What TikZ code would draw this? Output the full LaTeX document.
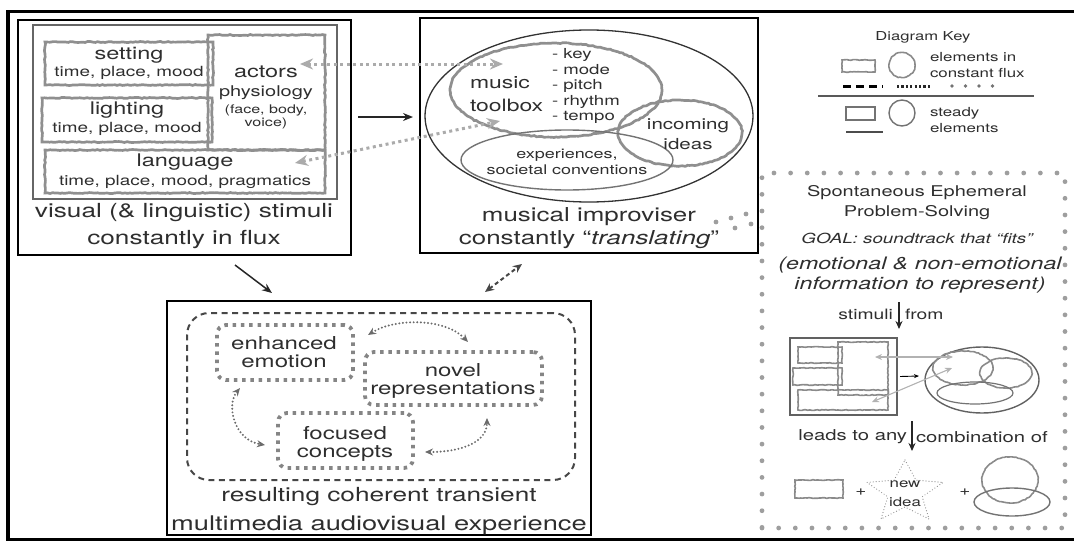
\documentclass[tikz,border=0pt]{standalone}
\usepackage{fontspec}
\setmainfont{TeX Gyre Heros}[FakeStretch=1.35]
\usetikzlibrary{arrows.meta,shapes.geometric,decorations.pathmorphing}
\newcommand{\fz}[1]{\fontsize{#1}{#1}\selectfont}
\begin{document}
\begin{tikzpicture}[x=1pt,y=-1pt,
  every node/.style={inner sep=0pt, outer sep=0pt, text=black!82},
  blackbox/.style={draw=black, line width=1.8pt, rectangle},
  flux/.style={draw=black!44, line width=2.7pt, decorate, decoration={random steps, segment length=2.5pt, amplitude=0.5pt}},
  fluxs/.style={draw=black!46, line width=1.6pt, decorate, decoration={random steps, segment length=2pt, amplitude=0.4pt}},
  steady/.style={draw=black!55, line width=1.4pt},
  sqdot/.style={draw=black!48, line width=3.8pt, dash pattern=on 3.5pt off 4.8pt, rounded corners=9pt},
  graydot/.style={draw=black!33, line width=3pt, dash pattern=on 3pt off 3.5pt, {Stealth[length=13pt,width=11pt,fill=black!33]}-{Stealth[length=13pt,width=11pt,fill=black!33]}},
  rounddot/.style={draw=black!58, line width=2.2pt, dash pattern=on 0pt off 3.6pt, line cap=round, {Stealth[length=8pt,width=7pt,fill=black!58,line cap=butt]}-{Stealth[length=8pt,width=7pt,fill=black!58,line cap=butt]}},
  solidarr/.style={draw=black!85, line width=1.5pt, -{Stealth[length=10pt,width=8pt]}},
  minia/.style={draw=black!30, line width=1.1pt, {Stealth[length=7pt,width=6pt]}-{Stealth[length=7pt,width=6pt]}},
  hd/.style={font=\fz{17.4}},
  sub/.style={font=\fz{14}},
  captext/.style={font=\fz{19.4}},
]
\useasboundingbox (0,0) rectangle (1074,541);
% outer frame
\draw[line width=3.6pt] (1080,11.5) -- (8,11.5) -- (8,539.5) -- (1080,539.5);

% ---------- box 1 ----------
\node[blackbox, minimum width=333pt, minimum height=235pt] (vis) at (184.5,137.5) {};
\node[draw=black!60, line width=1.4pt, minimum width=304pt, minimum height=174pt] (visin) at (185,112) {};
\node[flux, minimum width=168pt, minimum height=43pt] (set) at (129,63.5) {};
\node[flux, minimum width=170pt, minimum height=44pt] (lig) at (127,120) {};
\node[flux, minimum width=280pt, minimum height=43pt] (lan) at (185,171.5) {};
\node[flux, minimum width=117pt, minimum height=115pt] (act) at (266.5,92.5) {};
\node[hd] (tset) at (129,55) {setting};
\node[sub] (tset2) at (129,73) {time, place, mood};
\node[hd] (tlig) at (127,110) {lighting};
\node[sub] (tlig2) at (127,129) {time, place, mood};
\node[hd] (tact) at (266,72) {actors};
\node[font=\fz{14.8}] (tact2) at (266,93) {physiology};
\node[font=\fz{11.9}] (tact3) at (266,110) {(face, body,};
\node[font=\fz{11.9}] (tact4) at (266,123) {voice)};
\node[hd] (tlan) at (185,162) {language};
\node[sub] (tlan2) at (185,182) {time, place, mood, pragmatics};
\node[captext] (cvis1) at (184,213) {visual (\& linguistic) stimuli};
\node[captext] (cvis2) at (184,240) {constantly in flux};

% ---------- box 2 ----------
\node[blackbox, minimum width=338pt, minimum height=235pt] (imp) at (589,135.5) {};
\node[draw=black!80, line width=1.3pt, ellipse, minimum width=328pt, minimum height=172pt] (big) at (589,116) {};
\node[flux, ellipse, minimum width=212pt, minimum height=94pt] (tool) at (556,90) {};
\node[flux, ellipse, minimum width=124pt, minimum height=66pt] (inc) at (680,133) {};
\node[steady, ellipse, minimum width=212pt, minimum height=60pt] (exp) at (567,160) {};
\node[font=\fz{17}, anchor=west] (tmus) at (470,83) {music};
\node[font=\fz{17}, anchor=west] (ttool) at (470,105) {toolbox};
\node[font=\fz{13.8}, anchor=west] (l1) at (552,55) {- key};
\node[font=\fz{13.8}, anchor=west] (l2) at (552,70) {- mode};
\node[font=\fz{13.8}, anchor=west] (l3) at (552,86) {- pitch};
\node[font=\fz{13.8}, anchor=west] (l4) at (552,102) {- rhythm};
\node[font=\fz{13.8}, anchor=west] (l5) at (552,117) {- tempo};
\node[font=\fz{15.2}] (tinc1) at (688,126) {incoming};
\node[font=\fz{15.2}] (tinc2) at (688,144) {ideas};
\node[font=\fz{13.3}] (texp1) at (567,155) {experiences,};
\node[font=\fz{13.3}] (texp2) at (567,170) {societal conventions};
\node[font=\fz{19.2}] (cimp1) at (589,217) {musical improviser};
\node[font=\fz{19.2}] (cimp2) at (589,240) {constantly “\textit{translating}”};

% connectors box1 <-> box2
\draw[solidarr] ([xshift=7pt,yshift=20.5pt]vis.east) -- ([xshift=-7pt,yshift=18.5pt]imp.west);
\draw[graydot] ([xshift=-25pt,yshift=28.5pt]act.east) -- ([xshift=53pt,yshift=26pt]tool.west);
\draw[graydot] ([xshift=-30pt,yshift=8.5pt]lan.east) -- ([xshift=50pt,yshift=-31pt]tool.west);

% ---------- box 3 ----------
\node[blackbox, minimum width=424pt, minimum height=234pt] (res) at (379,418) {};
\node[draw=black!72, line width=2pt, dash pattern=on 6pt off 4.5pt, rounded corners=22pt, minimum width=388pt, minimum height=167pt] (coh) at (381,396.5) {};
\node[sqdot, minimum width=136pt, minimum height=55pt] (enh) at (285,352.5) {};
\node[sqdot, minimum width=177pt, minimum height=53pt] (nov) at (453.5,378.5) {};
\node[sqdot, minimum width=135pt, minimum height=55pt] (foc) at (345.5,440.5) {};
\node[font=\fz{17.8}] (tenh1) at (284,343) {enhanced};
\node[font=\fz{17.8}] (tenh2) at (284,361) {emotion};
\node[font=\fz{17.8}] (tnov1) at (453,370) {novel};
\node[font=\fz{17.8}] (tnov2) at (453,390) {representations};
\node[font=\fz{17.8}] (tfoc1) at (345,433) {focused};
\node[font=\fz{17.8}] (tfoc2) at (345,453) {concepts};
\node[captext] (cres1) at (379,497) {resulting coherent transient};
\node[font=\fz{20.2}] (cres2) at (379,525) {multimedia audiovisual experience};

\draw[rounddot] ([xshift=15pt,yshift=17.5pt]enh.east) .. controls (395,318) and (445,318) .. ([xshift=14.5pt,yshift=10pt]nov.north);
\draw[rounddot] ([xshift=-45pt,yshift=-8pt]enh.south) .. controls (226,405) and (234,440) .. ([xshift=-13pt,yshift=-4.5pt]foc.west);
\draw[rounddot] ([xshift=12pt,yshift=-11.5pt]foc.east) .. controls (462,452) and (487,442) .. ([xshift=33.5pt,yshift=-13pt]nov.south);

% connectors to box 3
\draw[solidarr] ([xshift=50.5pt,yshift=-10pt]vis.south) -- ([xshift=-107pt,yshift=8pt]res.north);
\draw[draw=black!72, line width=2pt, dash pattern=on 4pt off 3pt, {Stealth[length=9pt,width=8pt]}-{Stealth[length=9pt,width=8pt]}] ([xshift=106pt,yshift=9pt]res.north) -- ([xshift=-67pt,yshift=-11pt]imp.south);

% ---------- key ----------
\node[font=\fz{12.3}] (key) at (923,37) {Diagram Key};
\node[fluxs, minimum width=33pt, minimum height=12pt] (kfr) at (858.5,66) {};
\node[fluxs, ellipse, minimum width=26pt, minimum height=25pt] (kfc) at (902,65) {};
\node[font=\fz{12.5}, anchor=west] (kf1) at (930,57) {elements in};
\node[font=\fz{12.5}, anchor=west] (kf2) at (930,73) {constant flux};
\draw[black, line width=3pt, dash pattern=on 8pt off 5pt] (843,86) -- (883,86);
\draw[black!85, line width=3pt, dash pattern=on 2.2pt off 2.2pt] (897,86) -- (932,86);
\draw[black!55, line width=3.6pt, dash pattern=on 0pt off 13.5pt, line cap=round] (952,86) -- (993,86);
\draw[black!65, line width=1.2pt] (818,96) -- (1034,96);
\node[steady, minimum width=29pt, minimum height=13pt] (ksr) at (860.5,113.5) {};
\node[steady, ellipse, minimum width=26pt, minimum height=26pt] (ksc) at (902,113) {};
\node[font=\fz{12.5}, anchor=west] (ks1) at (930,113) {steady};
\node[font=\fz{12.5}, anchor=west] (ks2) at (930,128) {elements};
\draw[black!70, line width=2pt] (846,132) -- (883,132);

% ---------- problem solving ----------
\node[draw=black!38, line width=4.8pt, dash pattern=on 0pt off 16.65pt, line cap=round, minimum width=303pt, minimum height=355pt] (prob) at (913.5,350.5) {};
\foreach \p in {(716,222),(731,218),(746,214),(735,228),(751,224)}
  \fill[black!38] \p circle (2.4);
\node[font=\fz{14.8}] (pt1) at (917,193) {Spontaneous Ephemeral};
\node[font=\fz{14.8}] (pt2) at (917,213) {Problem-Solving};
\node[font=\fz{13.9}\itshape] (pg) at (917,238) {GOAL: soundtrack that “fits”};
\node[font=\fz{17.2}\itshape] (pe1) at (920,265) {(emotional \& non-emotional};
\node[font=\fz{17.2}\itshape] (pe2) at (920,285) {information to represent)};
\coordinate (st1) at (899,302);
\coordinate (st2) at (899,329);
\draw[black!85, line width=1.3pt, -{Stealth[length=8pt,width=7pt]}] (st1) -- (st2);
\node[font=\fz{14.3}, anchor=east] (pst) at (893,314) {stimuli};
\node[font=\fz{14.3}, anchor=west] (pfr) at (905,314) {from};

% mini diagram
\node[draw=black!62, line width=1.4pt, minimum width=107pt, minimum height=77pt] (mr) at (843.5,376.5) {};
\node[fluxs, minimum width=44pt, minimum height=16pt] (mr1) at (820,355) {};
\node[fluxs, minimum width=49pt, minimum height=17pt] (mr2) at (817.5,376.5) {};
\node[fluxs, minimum width=90pt, minimum height=20pt] (mlan) at (843,400) {};
\node[fluxs, minimum width=50pt, minimum height=53pt] (mact) at (863,368.5) {};
\node[draw=black!62, line width=1.4pt, ellipse, minimum width=114pt, minimum height=66pt] (mbig) at (982,380) {};
\node[fluxs, ellipse, minimum width=60pt, minimum height=34pt] (mtool) at (963,368) {};
\node[fluxs, ellipse, minimum width=52pt, minimum height=30pt] (minc) at (1006,373) {};
\node[steady, line width=1.2pt, ellipse, minimum width=76pt, minimum height=22pt] (mexp) at (975,393) {};
\draw[minia] ([xshift=-13pt,yshift=11.5pt]mact.east) -- ([xshift=20pt,yshift=11pt]mtool.west);
\draw[minia] ([xshift=19pt]mtool.west) -- ([xshift=-16pt,yshift=-2pt]mlan.east);
\draw[black, line width=0.9pt, -{Stealth[length=5pt,width=4pt]}] ([xshift=3pt]mr.east) -- ([xshift=-6pt,yshift=4pt]mbig.west);

\coordinate (ld1) at (912,421);
\coordinate (ld2) at (912,451);
\draw[black!85, line width=1.3pt, -{Stealth[length=8pt,width=7pt]}] (ld1) -- (ld2);
\node[font=\fz{15}, anchor=east] (plead) at (907,437) {leads to any};
\node[font=\fz{15}, anchor=west] (pcomb) at (916,437) {combination of};

\node[fluxs, minimum width=48pt, minimum height=18pt] (brect) at (819,489) {};
\node[font=\fz{14}] (plus1) at (861,492) {+};
\draw[black!45, line width=1.2pt, dash pattern=on 0pt off 3pt, line cap=round]
  (905,460) -- (916,480.2) -- (943,482.4) -- (922.2,496.8) -- (929,519) -- (905,507)
  -- (881,519) -- (887.8,496.8) -- (867,482.4) -- (894,480.2) -- cycle;
\node[font=\fz{12.5}] (pnew) at (905,484) {new};
\node[font=\fz{12.5}] (pidea) at (905,502) {idea};
\node[font=\fz{14}] (plus2) at (965,492) {+};
\node[fluxs, ellipse, minimum width=56pt, minimum height=46pt] (bcirc) at (1010,480) {};
\node[steady, ellipse, minimum width=76pt, minimum height=28pt] (bell) at (1012,502) {};
\end{tikzpicture}
\end{document}
